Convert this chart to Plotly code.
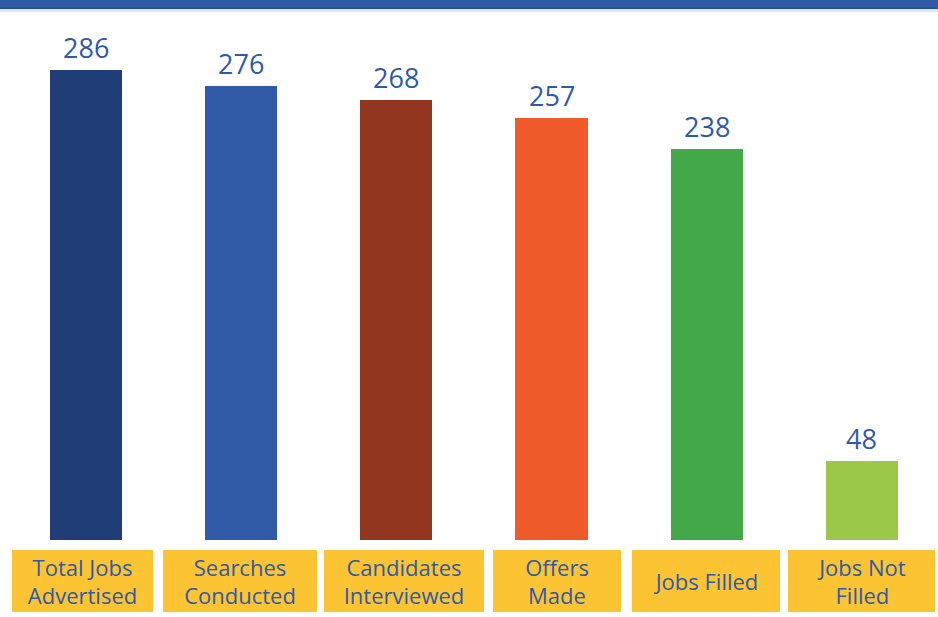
import plotly.graph_objects as go

categories = ["Total Jobs<br>Advertised", "Searches<br>Conducted", "Candidates<br>Interviewed",
              "Offers<br>Made", "Jobs Filled", "Jobs Not<br>Filled"]
values = [286, 276, 268, 257, 238, 48]
colors = ["#213d78", "#315aa8", "#93361f", "#f15a2b", "#43a84a", "#9bc848"]

FONT = "Open Sans"
TXT = "#2f5aa8"
xs = list(range(len(categories)))

fig = go.Figure(go.Bar(x=xs, y=values, marker=dict(color=colors, line=dict(width=0)),
                       width=0.465, hoverinfo="skip"))

box_w = [141, 154, 160, 128, 148, 147]
box_dx = [-3, -1, 8, 5, -1, 0]
for i, (c, v) in enumerate(zip(categories, values)):
    fig.add_annotation(x=i, y=v, xref="x", yref="y", text=str(v), showarrow=False,
                       yanchor="bottom", yshift=2,
                       font=dict(family=FONT, size=27, color=TXT))
    fig.add_annotation(x=i, y=0, xref="x", yref="paper", text=c, showarrow=False,
                       yanchor="top", yshift=-10, xshift=box_dx[i],
                       width=box_w[i], height=62, bgcolor="#fcc433",
                       borderpad=0, borderwidth=0, align="center", valign="middle",
                       font=dict(family=FONT, size=22, color=TXT))

# top band
fig.add_shape(type="rect", xref="paper", yref="paper", x0=0, x1=1,
              ysizemode="pixel", yanchor=1, y0=12, y1=22,
              fillcolor="#305aa8", line=dict(width=0), layer="above")
fig.add_shape(type="rect", xref="paper", yref="paper", x0=0, x1=1,
              ysizemode="pixel", yanchor=1, y0=11, y1=13,
              fillcolor="#24529a", line=dict(width=0), layer="above")
fig.add_shape(type="rect", xref="paper", yref="paper", x0=0, x1=1,
              ysizemode="pixel", yanchor=1, y0=8, y1=11,
              fillcolor="#dfe6f3", line=dict(width=0), layer="above")

fig.update_layout(
    width=938, height=617, margin=dict(l=0, r=0, t=20, b=77),
    paper_bgcolor="white", plot_bgcolor="white", showlegend=False,
    xaxis=dict(range=[-0.554, 5.49], visible=False, fixedrange=True),
    yaxis=dict(range=[0, 316.4], visible=False, fixedrange=True),
    bargap=0,
)
fig.write_html("out.html")
